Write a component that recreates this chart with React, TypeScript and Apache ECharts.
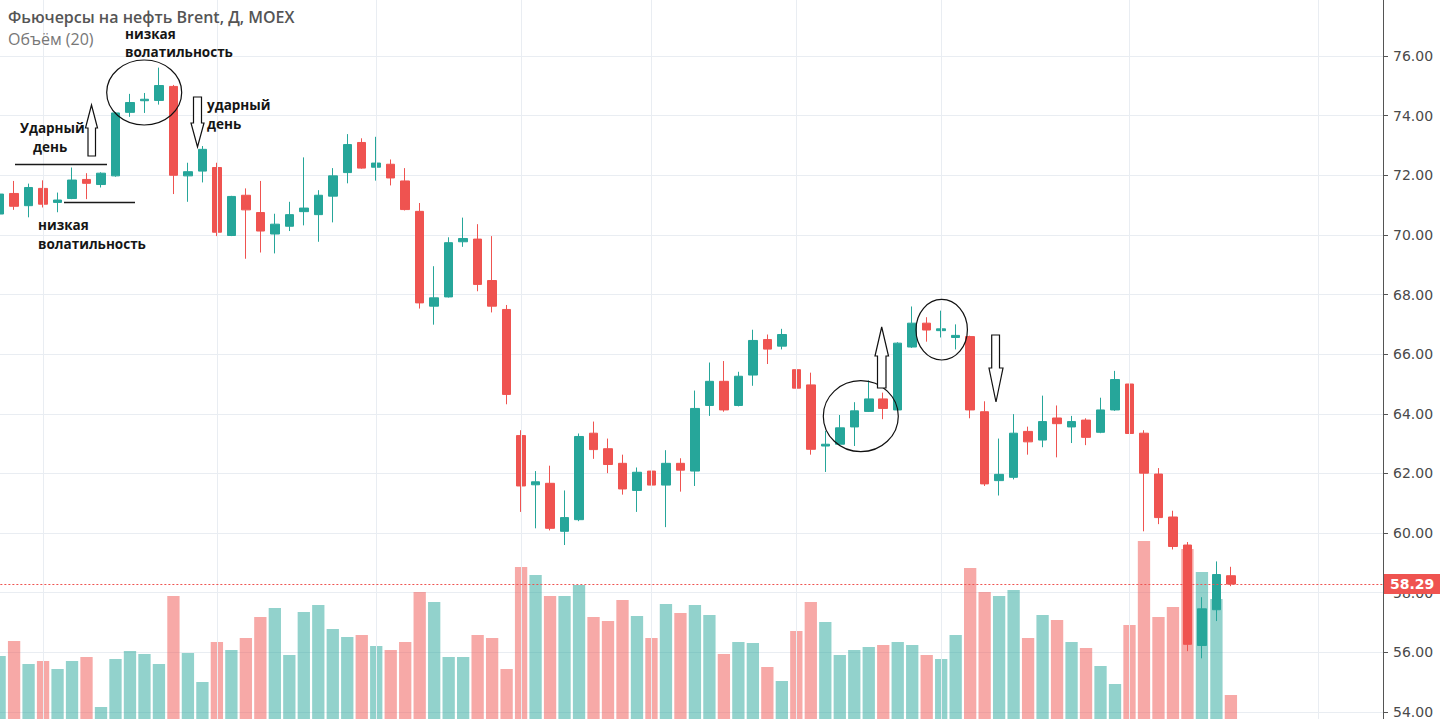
import React, { useEffect, useRef } from "react";
import * as echarts from "echarts";

// ---------- data ----------
const TITLE = "Фьючерсы на нефть Brent, Д, MOEX";
const VOLUME_LABEL = "Объём (20)";
const SLOT_COUNT = 96; // trading days incl. empty space before the price scale
const days = Array.from({ length: SLOT_COUNT }, (_, i) => "D" + (i + 1));

const opens = [70.70, 71.39, 70.98, 71.56, 71.09, 71.22, 71.86, 71.69, 71.98, 74.11, 74.50, 74.51, 74.98, 71.98, 72.14, 72.26, 69.98, 71.33, 70.75, 70.03, 70.29, 70.78, 70.68, 71.30, 72.09, 73.10, 72.27, 72.37, 71.81, 70.79, 67.61, 67.92, 69.77, 69.86, 68.47, 67.50, 63.27, 61.62, 61.67, 60.06, 60.45, 63.35, 62.83, 62.34, 61.43, 62.08, 61.61, 62.34, 62.08, 64.28, 65.09, 64.28, 65.30, 66.49, 66.27, 65.48, 64.97, 62.92, 62.98, 63.56, 64.08, 64.50, 64.13, 66.24, 67.04, 66.79, 66.56, 66.59, 64.07, 61.76, 61.87, 63.41, 63.12, 63.86, 63.56, 63.79, 63.38, 64.13, 65.00, 63.35, 61.98, 60.54, 59.60, 56.23, 57.43, 58.57];
const closes = [71.37, 70.96, 71.59, 71.03, 71.17, 71.84, 71.73, 72.07, 74.09, 74.44, 74.55, 75.01, 72.00, 72.12, 72.87, 70.09, 71.29, 70.84, 70.13, 70.36, 70.68, 70.90, 71.33, 71.98, 73.03, 72.24, 72.41, 71.91, 70.85, 67.72, 67.89, 69.74, 69.88, 68.34, 67.61, 64.65, 61.58, 61.72, 60.16, 60.52, 63.24, 62.80, 62.30, 61.48, 62.04, 61.61, 62.34, 62.11, 64.18, 65.09, 64.13, 65.26, 66.46, 66.17, 66.66, 64.86, 62.81, 62.98, 63.53, 64.10, 64.50, 64.18, 66.37, 67.04, 66.81, 66.85, 66.63, 64.13, 61.65, 61.97, 63.35, 63.06, 63.74, 63.67, 63.74, 63.21, 64.13, 65.15, 63.34, 62.01, 60.52, 59.55, 56.27, 57.46, 58.61, 58.29];
const lows = [70.60, 70.84, 70.59, 70.92, 70.76, 71.20, 71.20, 71.59, 71.95, 73.96, 74.09, 74.37, 71.37, 71.11, 71.76, 69.96, 69.96, 69.20, 69.41, 69.38, 70.13, 70.32, 69.77, 70.42, 71.73, 72.22, 71.82, 71.66, 70.82, 67.53, 66.99, 67.90, 69.60, 68.11, 67.40, 64.32, 60.71, 60.16, 60.09, 59.60, 60.40, 62.49, 62.01, 61.29, 60.71, 61.10, 60.20, 61.39, 61.58, 63.93, 64.07, 64.25, 64.94, 65.67, 66.16, 64.03, 62.63, 62.05, 62.95, 62.92, 64.06, 63.82, 64.10, 66.21, 66.42, 66.56, 66.16, 63.85, 61.58, 61.26, 61.80, 62.63, 62.88, 62.54, 63.02, 62.95, 63.35, 64.10, 63.23, 60.06, 60.30, 59.45, 56.04, 55.80, 57.05, 58.22];
const highs = [71.50, 71.81, 71.72, 71.83, 71.42, 72.26, 72.07, 72.10, 74.12, 74.73, 74.76, 75.61, 75.03, 72.42, 72.98, 72.42, 71.31, 71.56, 71.81, 70.71, 71.11, 72.60, 71.50, 72.24, 73.38, 73.24, 73.29, 72.53, 72.24, 71.07, 68.95, 69.92, 70.58, 70.36, 69.96, 67.65, 63.45, 62.08, 62.26, 61.43, 63.34, 63.74, 63.17, 62.63, 62.20, 62.54, 62.78, 62.51, 64.78, 65.72, 65.77, 65.41, 66.82, 66.66, 66.85, 66.71, 65.38, 63.43, 63.96, 64.39, 65.12, 64.71, 66.40, 67.60, 67.24, 67.46, 67.00, 66.62, 64.42, 63.17, 63.99, 63.57, 64.61, 64.28, 63.93, 63.85, 64.54, 65.44, 65.22, 63.45, 62.18, 60.75, 59.70, 57.85, 59.05, 58.87];
const volumes = [63, 78, 55, 58, 50, 58, 62, 12, 60, 68, 65, 55, 123, 66, 37, 77, 69, 81, 102, 111, 64, 107, 114, 90, 82, 84, 73, 69, 77, 127, 117, 62, 62, 84, 81, 50, 152, 144, 123, 123, 134, 102, 98, 119, 103, 81, 115, 106, 114, 104, 65, 77, 76, 52, 38, 88, 117, 97, 64, 69, 72, 74, 77, 74, 64, 60, 84, 151, 127, 123, 129, 81, 104, 99, 77, 71, 53, 35, 94, 178, 102, 112, 170, 147, 120, 24];

const PRICE_MIN = 54;
const PRICE_MAX = 76;
const PRICE_STEP = 2;
const VOLUME_MAX = 719;
const LAST_PRICE = 58.29;
const gridLineDays = [3, 15, 26, 36, 45, 55, 65, 78, 91];

// ---------- layout / styles ----------
const SHIFT = 8; // the chart box starts 8px left of the page so the first candle is cut off
const UP = "#26a69a";
const DOWN = "#ef5350";
const UP_VOL = "rgba(38,166,154,0.5)";
const DOWN_VOL = "rgba(239,83,80,0.5)";
const GRID_COLOR = "#e9edf2";
const NOTE_FONT = 'bold 13.5px "Open Sans"';
const NOTE_COLOR = "#151515";

function noteText(text: string, x: number, y: number) {
  return {
    type: "text",
    x,
    y,
    z: 100,
    style: { text, fill: NOTE_COLOR, font: NOTE_FONT, align: "left", verticalAlign: "middle" },
  };
}

function arrow(points: number[][]) {
  return {
    type: "polygon",
    z: 100,
    shape: { points },
    style: { fill: "#ffffff", stroke: "#111111", lineWidth: 1.2 },
  };
}

function ellipse(cx: number, cy: number, rx: number, ry: number) {
  return {
    type: "ellipse",
    z: 100,
    shape: { cx, cy, rx, ry },
    style: { fill: "none", stroke: "#111111", lineWidth: 1.2 },
  };
}

function hline(x1: number, x2: number, y: number) {
  return {
    type: "line",
    z: 100,
    shape: { x1, y1: y, x2, y2: y },
    style: { stroke: "#1a1a1a", lineWidth: 1.5 },
  };
}

export default function App() {
  const ref = useRef<HTMLDivElement>(null);

  useEffect(() => {
    if (!ref.current) return;
    const chart = echarts.init(ref.current, null, { renderer: "svg" });

    const candleData = opens.map((o, i) => [o, closes[i], lows[i], highs[i]]);
    const volumeData = volumes.map((v, i) => ({
      value: v,
      itemStyle: { color: closes[i] >= opens[i] ? UP_VOL : DOWN_VOL },
    }));

    const hiddenCategory = (gridIndex: number) => ({
      type: "category",
      gridIndex,
      data: days,
      axisLine: { show: false },
      axisTick: { show: false },
      axisLabel: { show: false },
      splitLine: { show: false },
    });

    const option = {
      animation: false,
      backgroundColor: "#ffffff",
      grid: [
        { left: 0.36, right: 57, top: 56, bottom: 3 },
        { left: 0.36, right: 57, top: 0, bottom: 0 },
      ],
      xAxis: [hiddenCategory(0), hiddenCategory(1)],
      yAxis: [
        {
          type: "value",
          gridIndex: 0,
          position: "right",
          min: PRICE_MIN,
          max: PRICE_MAX,
          interval: PRICE_STEP,
          axisLine: { show: false },
          axisTick: { show: true, length: 5, lineStyle: { color: "#555555" } },
          axisLabel: {
            color: "#4a4a4a",
            fontFamily: "DejaVu Sans",
            fontSize: 14,
            margin: 10,
            formatter: (v: number) => v.toFixed(2),
          },
          splitLine: { show: true, lineStyle: { color: GRID_COLOR, width: 1 } },
        },
        {
          type: "value",
          gridIndex: 1,
          position: "right",
          min: 0,
          max: VOLUME_MAX,
          axisLine: { show: true, lineStyle: { color: "#555555", width: 1 } },
          axisTick: { show: false },
          axisLabel: { show: false },
          splitLine: { show: false },
        },
      ],
      series: [
        {
          type: "bar",
          xAxisIndex: 1,
          yAxisIndex: 1,
          z: 1,
          barWidth: 12.3,
          data: volumeData,
          markLine: {
            silent: true,
            symbol: ["none", "none"],
            label: { show: false },
            lineStyle: { color: GRID_COLOR, type: "solid", width: 1 },
            data: gridLineDays.map((d) => ({ xAxis: days[d] })),
          },
        },
        {
          type: "candlestick",
          xAxisIndex: 0,
          yAxisIndex: 0,
          z: 3,
          barWidth: 9,
          data: candleData,
          itemStyle: {
            color: UP,
            color0: DOWN,
            borderColor: UP,
            borderColor0: DOWN,
            borderWidth: 1,
          },
          markLine: {
            silent: true,
            symbol: ["none", "none"],
            data: [{ yAxis: LAST_PRICE }],
            lineStyle: { color: DOWN, type: [2, 2], width: 1 },
            label: {
              show: true,
              position: "end",
              distance: 1,
              formatter: () => LAST_PRICE.toFixed(2),
              backgroundColor: DOWN,
              color: "#ffffff",
              fontFamily: "DejaVu Sans",
              fontWeight: "bold",
              fontSize: 14,
              lineHeight: 14,
              padding: [3, 6, 3, 6],
            },
          },
        },
      ],
      graphic: [
        {
          type: "group",
          x: SHIFT,
          y: 0,
          children: [
            {
              type: "text",
              x: 8,
              y: 16.5,
              z: 100,
              style: { text: TITLE, fill: "#555555", font: '600 16px "Open Sans"', verticalAlign: "middle" },
            },
            {
              type: "text",
              x: 8,
              y: 39,
              z: 100,
              style: { text: VOLUME_LABEL, fill: "#777777", font: '16px "Open Sans"', verticalAlign: "middle" },
            },
            // first group
            noteText("низкая", 125, 34),
            noteText("волатильность", 125, 51.5),
            ellipse(144.2, 92.5, 37.5, 32.5),
            noteText("Ударный", 20, 128),
            noteText("день", 33, 147),
            hline(15, 107, 164.5),
            arrow([[91.5, 105], [97.5, 128], [95.5, 128], [95.5, 156], [88, 156], [88, 128], [85.5, 128]]),
            hline(64, 135, 202.5),
            noteText("низкая", 38, 225),
            noteText("волатильность", 38, 244),
            arrow([[193.5, 97], [201.5, 97], [201.5, 123], [204, 123], [197.5, 147], [191, 123], [193.5, 123]]),
            noteText("ударный", 207, 105),
            noteText("день", 207, 124),
            // second group
            ellipse(860.8, 416.2, 37.5, 35.5),
            arrow([[881.7, 327], [888.5, 356], [886, 356], [886, 388], [877.5, 388], [877.5, 356], [875, 356]]),
            ellipse(941.7, 329.7, 25.7, 30.3),
            arrow([[991.7, 335], [999.5, 335], [999.5, 368], [1003, 368], [996, 402], [989, 368], [991.7, 368]]),
          ],
        },
      ],
    };

    chart.setOption(option as any);
    return () => chart.dispose();
  }, []);

  return (
    <div
      ref={ref}
      style={{ position: "absolute", left: -SHIFT, top: 0, width: 1440 + SHIFT, height: 719 }}
    />
  );
}
